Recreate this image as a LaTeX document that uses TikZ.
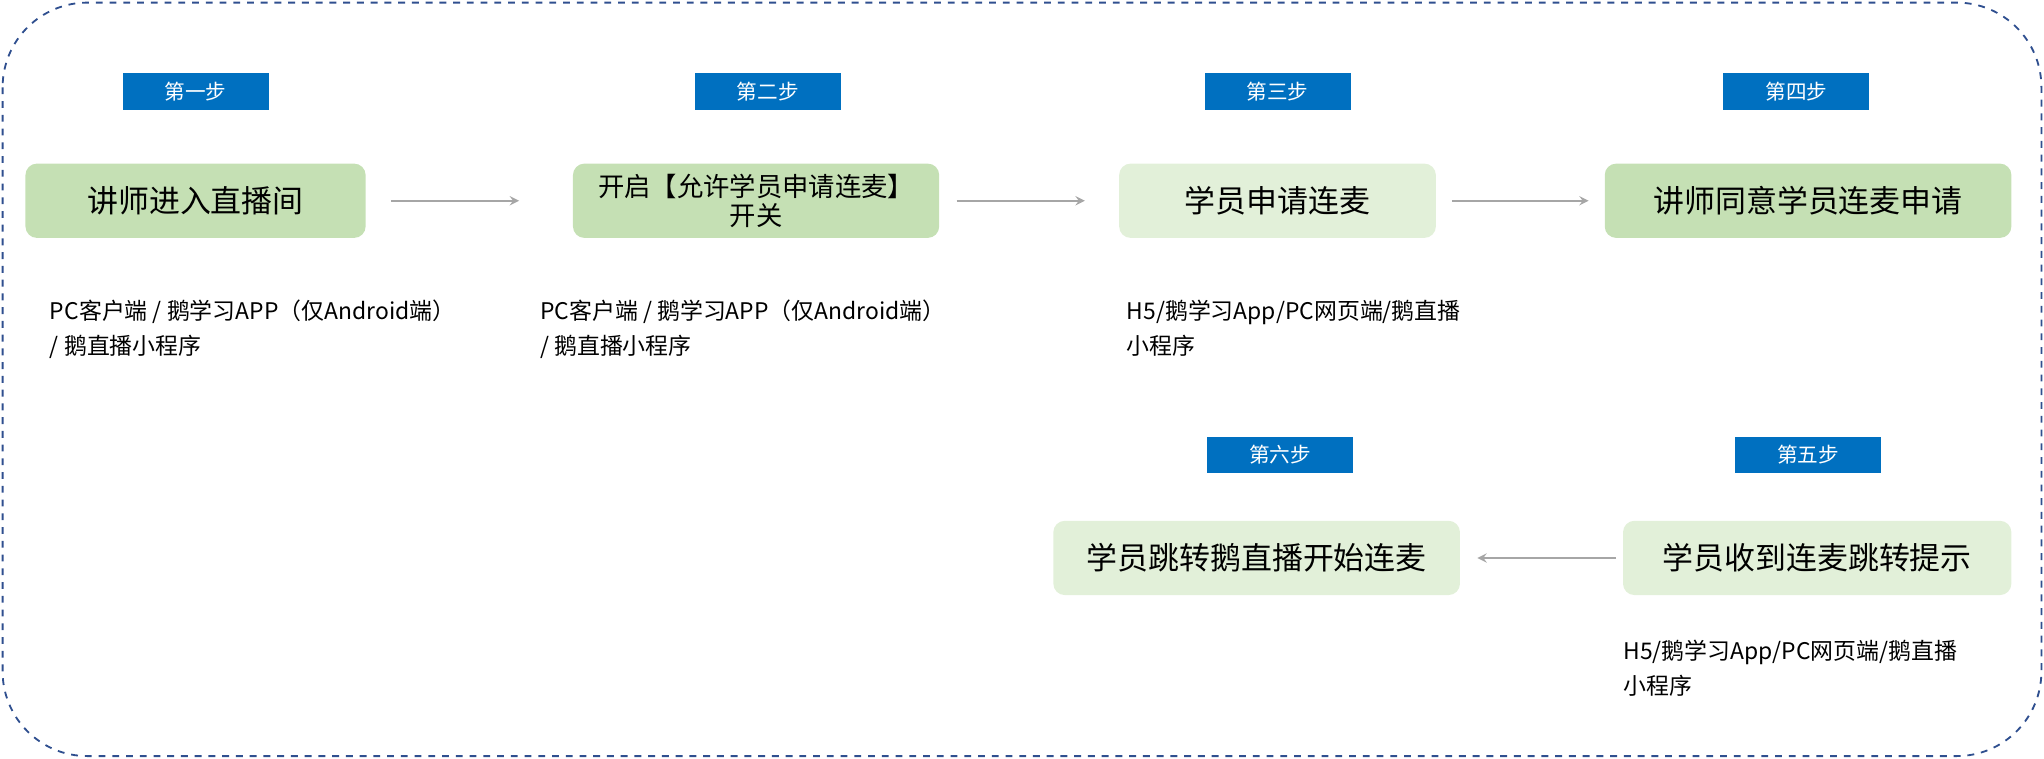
\documentclass[tikz,border=0pt]{standalone}
\usepackage{fontspec}
\setmainfont{Noto Sans CJK SC}
\usetikzlibrary{positioning}
\definecolor{stepblue}{HTML}{0070C0}
\definecolor{boxgreen}{HTML}{C5E0B4}
\definecolor{boxlight}{HTML}{E2F0D9}
\definecolor{framecol}{HTML}{2F4F8F}
\tikzset{
    steptag/.style={fill=stepblue,text=white,minimum width=2.24cm,minimum height=0.56cm,inner sep=0pt,font=\fontsize{9}{10}\selectfont},
    box/.style={fill=boxgreen,rounded corners=5pt,inner sep=0pt,align=center,font=\fontsize{13.5}{14}\selectfont,minimum height=1.14cm},
    lightbox/.style={box,fill=boxlight},
    note/.style={anchor=north west,align=left,inner sep=0pt,font=\fontsize{10}{15}\selectfont},
    pre/.style={->,thick,>=stealth,draw=gray!70}
}
\begin{document}
\begin{tikzpicture}[x=0.02cm,y=-0.02cm]
    \useasboundingbox (0,0) rectangle (1568,582);
    \draw[framecol,dashed,thick,rounded corners=1.3cm] (2,2) rectangle (1566,580);

    \node[steptag] (s1) at (150,70) {第一步};
    \node[steptag] (s2) at (589,70) {第二步};
    \node[steptag] (s3) at (980,70) {第三步};
    \node[steptag] (s4) at (1378,70) {第四步};
    \node[steptag] (s6) at (982,349) {第六步};
    \node[steptag] (s5) at (1387,349) {第五步};

    \node[box,minimum width=5.22cm] (b1) at (150,154) {讲师进入直播间};
    \node[box,minimum width=5.62cm,font=\fontsize{11.5}{12.5}\selectfont] (b2) at (580,154) {开启【允许学员申请连麦】\\开关};
    \node[lightbox,minimum width=4.86cm] (b3) at (980,154) {学员申请连麦};
    \node[box,minimum width=6.24cm] (b4) at (1387,154) {讲师同意学员连麦申请};
    \node[lightbox,minimum width=5.96cm] (b5) at (1394,428) {学员收到连麦跳转提示};
    \node[lightbox,minimum width=6.24cm] (b6) at (964,428) {学员跳转鹅直播开始连麦};

    \draw[pre] ([xshift=0.38cm]b1.east) -- ([xshift=-0.82cm]b2.west);
    \draw[pre] ([xshift=0.26cm]b2.east) -- ([xshift=-0.52cm]b3.west);
    \draw[pre] ([xshift=0.24cm]b3.east) -- ([xshift=-0.24cm]b4.west);
    \draw[pre] ([xshift=-0.1cm]b5.west) -- ([xshift=0.26cm]b6.east);

    \node[note] (n1) at (38,230) {PC客户端 / 鹅学习APP（仅Android端）\\ / 鹅直播小程序};
    \node[note] (n2) at (414,230) {PC客户端 / 鹅学习APP（仅Android端）\\/ 鹅直播小程序};
    \node[note] (n3) at (864,230) {H5/鹅学习App/PC网页端/鹅直播\\小程序};
    \node[note] (n5) at (1245,491) {H5/鹅学习App/PC网页端/鹅直播\\小程序};
\end{tikzpicture}
\end{document}
